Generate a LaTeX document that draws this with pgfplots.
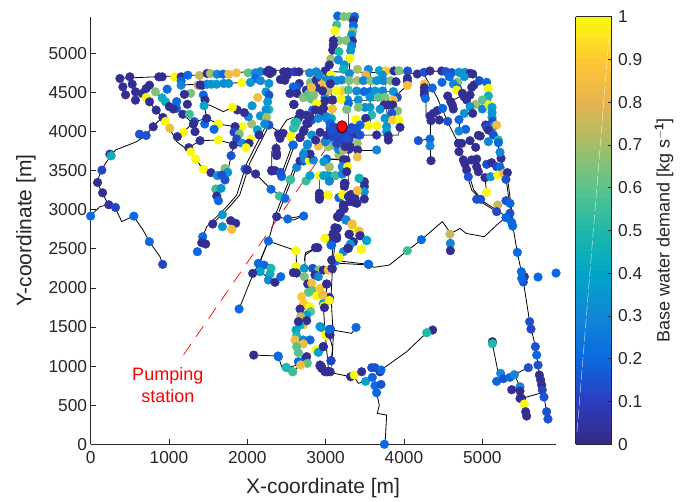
\documentclass[border=0pt]{standalone}
\usepackage{fontspec}
\setmainfont{Liberation Sans}
\usepackage{pgfplots}
\usepackage{pgfplotstable}
\pgfplotsset{compat=1.18}
\definecolor{axc}{RGB}{38,38,38}
\pgfplotstableread{
x y c
374 4678 .02
501 4699 .02
531 4605 .02
412 4571 .02
446 4469 .02
573 4507 .02
573 4401 .02
658 4486 .02
709 4550 .02
752 4592 .02
709 4435 1
828 4507 .65
752 4380 .02
913 4431 .45
956 4380 .45
837 4273 .02
922 4179 .02
956 4128 1
1011 4043 .85
799 4060 .02
709 3949 .15
624 3966 .15
246 3710 .02
263 3689 .45
144 3506 .12
89 3348 .02
153 3216 .02
233 3063 .05
318 3029 .12
0 2918 .2
552 2918 .2
750 2591 .2
920 2301 .12
871 4699 .02
913 4699 .02
1071 4699 1
1156 4699 .02
1241 4720 .2
1156 4644 .2
1156 4592 .3
977 4541 .2
1389 4716 .75
1487 4742 .02
1530 4742 .7
1614 4733 .3
1691 4733 .2
1763 4733 .85
1861 4750 .85
2010 4750 .6
2103 4750 .3
2167 4767 .3
2103 4678 .2
2276 4784 .02
2319 4763 .02
2254 4763 .02
2290 4740 .02
2465 4763 .02
2516 4763 .02
2510 4720 .02
2601 4763 .1
2659 4763 .02
2795 4750 .3
2880 4763 .3
3009 4763 .02
1368 4592 .75
1425 4592 .02
1487 4605 .3
1540 4605 .35
1607 4605 .35
1700 4614 .3
1763 4614 .35
1933 4627 1
2040 4627 .35
2167 4650 .3
2276 4614 .35
2422 4665 .02
2480 4655 .02
2664 4614 .02
2634 4571 .15
2587 4571 .2
2544 4486 .02
2634 4486 .02
2592 4345 .02
2754 4529 .02
2805 4627 .65
2239 4507 .35
2276 4465 .15
2133 4435 .85
2260 4380 .35
2061 4329 .35
2276 4280 .5
2239 4280 .35
2167 4200 .35
2246 4181 .7
2276 4083 .15
2222 4096 .3
2056 4096 .7
2129 4021 .4
2150 3955 .02
2040 3904 1
2014 4190 .3
1963 4241 .02
1873 4275 .02
1810 4309 1
1933 4062 1
1844 4062 .02
1831 3990 .12
1899 3968 .65
1865 3904 .12
1937 3849 .3
2022 3849 .02
1984 3793 1
1822 3827 .02
1631 4096 1
1576 4028 .2
1456 4096 .2
1482 4168 .02
1324 4126 .15
1312 4096 .02
1333 3998 .02
1184 3990 1
1107 3934 .02
1252 3793 .02
1397 3883 .02
1631 3891 1
1278 3738 1
1341 3648 1
1439 3516 1
1537 3474 .02
1618 3435 .35
1716 3529 .65
1750 3478 .35
1673 3444 .15
1716 3380 .15
1597 3265 .55
1665 3273 .35
1610 3175 .02
1631 3115 .2
1793 3691 .15
1971 3521 .2
2001 3508 .02
2107 3457 .02
2303 3261 .2
2409 3175 .55
2482 3145 .2
2375 2911 .02
2516 2881 .2
2720 2919 .2
1682 2937 .35
1559 2817 .02
1682 2783 .35
1788 2860 .02
1852 2826 .02
1801 2749 .85
1099 4382 .2
1235 4348 .02
1099 4296 .2
1005 4318 .02
1056 4288 .02
1176 4220 .02
1261 4220 .55
1278 4488 .65
1197 4475 .02
1439 4467 .2
1461 4403 .02
1448 4330 .4
1397 4595 .02
1431 2655 .2
1418 2578 .02
1469 2561 .02
1363 2463 .2
2269 2599 .2
2622 2476 1
2870 2514 .02
2900 2514 .02
2141 2314 .2
2214 2292 .2
2163 2207 .4
2303 2250 .5
2290 2177 .45
2269 2101 .3
2354 2071 .02
2427 2143 .2
2069 2186 .02
1895 1730 .2
2082 1141 .02
2393 1129 .2
2503 980 .5
2580 928 .55
2673 1022 .85
2652 1056 .2
2759 1048 .55
2907 1184 .4
2895 1197 1
2929 1014 .02
3014 928 .02
2622 2272 1
2728 2250 .35
2588 2195 .02
2628 2190 .02
2728 2144 .65
2771 2050 .02
2835 2250 .15
2915 2229 .65
2864 2165 .02
2907 2144 .3
2971 2229 .02
3035 2229 .85
3086 2242 .02
2822 2059 .85
2835 1965 .6
2779 1944 .6
2928 1995 .9
2886 1897 1
2958 1909 .85
3013 2050 .02
3047 1880 .02
3047 1840 .02
2694 1888 .9
2716 1803 .9
2767 1760 .9
2801 1760 1
2809 1696 .6
2673 1730 .02
2971 1803 .4
2979 1760 1
2758 1654 .4
2681 1632 .75
2716 1526 .85
2758 1581 .02
2673 1526 .45
2652 1568 .02
2622 1462 .4
2630 1385 .5
2609 1334 .85
2716 1334 .3
2801 1334 .2
2716 1283 .85
2630 1249 .6
2652 1172 .6
2737 1091 .2
2758 1121 .02
2767 1035 .6
2681 1014 .85
2928 1505 .3
2992 1440 1
3013 1385 1
3056 1398 .02
3064 1470 .15
2971 1249 .02
2877 1206 1
2907 1176 .4
3069 1070 .15
2928 1002 .02
2950 971 .02
2990 929 .02
3056 929 .02
2396 1121 .2
2494 984 .5
2579 929 .55
3388 1495 .2
3545 2302 .2
3319 864 .02
3366 886 1
3460 928 .02
3511 805 .4
3588 980 .15
3630 980 .15
3694 928 .02
3707 950 .2
3596 856 .2
3630 749 .2
3707 766 .15
3651 660 .2
3750 0 .2
4366 1461 .02
4290 1427 .5
4222 2616 .2
4043 2476 .55
3549 2301 .2
4587 2689 .75
4592 2570 .3
4592 2476 .02
5387 2791 .2
5447 2454 .2
5536 2143 .02
5498 2207 .2
5524 2075 .15
5502 2122 .2
5711 2139 .2
5941 2190 .2
5604 1568 .15
5621 1474 .12
5677 1248 .15
5694 1141 .2
5711 1013 .15
5587 980 .15
5728 886 .02
5745 822 .02
5758 758 .02
5766 694 .12
5787 604 .15
5821 417 .15
5838 323 .15
5128 1312 .02
5128 1286 .5
5234 907 .3
5183 805 .2
5268 839 .15
5353 856 .2
5409 890 .3
5481 736 .3
5375 698 .02
5481 681 .02
5481 587 .02
5502 587 .02
5536 515 1
5553 417 .02
5566 361 .02
3068 1069 .12
3056 928 .02
3013 928 .02
2949 992 .02
3000 1397 1
3047 1410 .02
3047 1470 .2
2941 1495 .35
2970 1248 .02
2979 1768 1
2985 1748 .02
3047 1866 .02
3047 1840 1
2962 1909 .85
3013 2049 .02
3034 2229 .85
3081 2250 .02
2992 2633 1
3068 2642 .02
3068 2548 .2
3141 2633 .02
3132 2761 .02
3098 2697 .02
3354 2761 1
3430 2719 .85
3438 2668 .02
3302 2685 .02
3354 2591 .02
3315 2560 .35
3460 2497 1
3524 2604 .4
3290 2506 .02
3226 2463 .3
3170 2390 1
3132 2344 .2
3077 2356 .02
3153 5477 .2
3234 5469 .65
3302 5469 .65
3370 5469 .2
3354 5418 .02
3354 5354 .2
3345 5277 .65
3141 5362 .55
3119 5290 1
3332 5234 .35
3341 5158 .02
3170 5162 .65
3260 5162 .65
3098 5162 .02
3098 5106 .02
3090 5042 .02
3332 5094 .3
3319 5034 .35
3170 5021 .5
3064 4927 .7
3162 4915 .3
3311 4936 1
3047 4851 .02
3239 4851 .35
3226 4795 .45
3405 4795 .7
3302 4744 .3
3545 4795 .3
3685 4778 .4
3770 4774 .9
3724 4723 .35
3873 4774 .02
3936 4778 .65
4047 4774 .15
2992 4774 .02
3064 4723 1
2949 4680 .85
3013 4659 .3
3077 4659 .3
3141 4650 .3
3205 4659 .3
3302 4650 .65
3405 4650 .7
3511 4723 .8
3481 4650 .3
3575 4650 .65
3651 4650 .35
3737 4650 .3
3830 4650 .65
3898 4637 .02
4043 4680 .02
4043 4645 .02
4043 4590 .85
3141 4522 1
3217 4522 .9
3290 4530 .55
3034 4522 .75
3396 4518 .3
3490 4510 .2
3566 4510 .2
3630 4518 .35
3728 4518 .3
3864 4510 .35
3915 4437 .15
2992 4437 .35
3085 4403 .02
3192 4412 1
3281 4403 .3
3417 4403 .35
3566 4437 .35
3673 4437 .6
3758 4437 .65
3864 4403 .85
3800 4339 .02
3856 4339 .02
3745 4339 .02
3919 4262 .65
3843 4232 .15
3694 4284 .35
3502 4309 .3
3566 4309 .35
3417 4309 .65
3268 4284 .65
3085 4296 1
2971 4296 .02
3290 4360 .2
3588 4211 .5
3758 4168 .35
3855 4147 .9
3936 4147 1
3388 4156 1
3511 4168 .02
3077 4168 .5
3013 4168 .35
2962 4232 .02
3545 4075 1
3651 4075 1
3779 4062 .35
3949 4053 .02
3779 3998 .4
3800 3943 .02
3800 3891 .02
3651 3955 .02
3409 3955 .15
3354 4019 .15
3405 3849 .7
3298 3772 .02
3409 3764 .02
3651 3764 .3
3405 3674 .85
3226 3764 .7
3170 3700 .7
3098 3827 .55
3034 3806 .7
2992 3870 .2
3056 3977 .02
3239 3636 .02
3281 3550 1
3213 3550 .35
3213 3457 .3
3047 3550 .7
2979 3614 .4
2941 3435 1
3022 3435 .55
3119 3435 .55
3047 3367 .3
3239 3337 .02
3430 3401 .45
3494 3324 .7
3494 3295 .02
3494 3231 .35
3405 3243 .85
3239 3295 .02
3034 3188 1
3213 3196 1
3170 3154 .15
2928 3167 .02
3332 3196 .02
3375 3145 .02
3311 3103 .02
3375 3090 .02
3494 3137 .02
3226 3039 .02
3183 2954 .02
3162 2902 .02
3260 2868 .2
3119 2770 .02
3341 2817 .85
4170 4735 .02
4256 4757 .15
4332 4774 .02
4481 4774 .02
4536 4765 .15
4609 4753 .15
4702 4757 .35
4779 4757 .35
4843 4744 .02
4877 4735 .02
4770 4701 .35
4579 4701 .2
4485 4629 .2
4685 4633 .65
4630 4608 .3
4685 4552 .2
4672 4531 1
4260 4608 .85
4260 4560 .02
4260 4510 .02
4260 4467 .02
4273 4424 .2
4362 4556 .2
4558 4454 .02
4596 4382 .02
4617 4339 .02
4630 4288 .02
4745 4488 .02
4767 4445 .02
4800 4403 .02
4843 4467 .02
4864 4565 .02
4894 4595 .02
4962 4650 .15
5055 4629 .2
5077 4552 1
5077 4454 .45
5000 4403 .6
4915 4347 .7
4843 4318 .35
4770 4232 .35
4877 4232 .02
5000 4288 .3
5085 4339 1
5124 4309 .4
5124 4245 .35
5124 4181 .35
5132 4126 .15
5141 4062 .35
5183 4083 .85
5043 4083 .02
5056 4053 .15
5077 4019 .02
5141 3955 .15
4973 3943 .02
4949 3951 .02
5077 3870 .3
5205 3891 .5
5205 3857 .2
4843 3883 .02
4694 3849 .02
4736 3849 .02
4702 3742 .02
4915 3798 .02
4558 4130 .15
4451 4147 .02
4345 4139 .02
4332 4198 .02
4375 4232 .02
4426 4267 .02
4494 4296 .2
4702 4151 .2
4787 4028 .2
4702 4006 .3
4183 3883 .15
4332 3904 .2
4332 3815 .3
4345 3627 .02
4758 3636 .02
4779 3585 .02
4800 3508 .02
4864 3636 .02
4928 3648 .02
4821 3422 .15
4928 3550 .02
4949 3486 .02
5034 3410 .02
5055 3580 .15
5119 3601 .02
5183 3550 .12
5226 3542 .2
5239 3657 .02
5226 3734 .3
5107 3422 .35
5196 3444 1
5277 3465 .85
5320 3474 .02
5302 3388 .15
5055 3222 1
4928 3133 .15
4979 3133 .15
5196 3060 .75
5183 2975 .12
5302 3115 .15
5353 3081 .2
5353 2954 .15
5302 2898 .2
5375 2838 .2
2375 3691 .02
2312 3504 .02
2354 3500 .02
2426 3478 .15
2439 3423 .2
2554 3389 .55
2750 3367 .55
2801 3436 .4
2920 3436 1
3035 3436 .35
3120 3436 .55
3048 3367 .3
2975 3436 .4
3248 3338 .02
2920 3210 .02
2920 3170 .02
2920 3133 .02
3031 3188 1
3175 3154 .2
3218 3188 1
3312 3188 .02
3355 3146 .02
3400 3082 .02
3333 3125 .02
3290 3167 .02
3405 3244 .85
3494 3359 .02
3426 3402 .45
3226 3061 .02
3235 3010 .02
3184 2933 .02
3150 2911 .02
3260 2869 .3
3150 2762 .02
3120 2698 .02
3141 2656 .02
3056 2634 .02
2992 2634 1
3077 2549 .2
3299 2685 .02
3333 2813 .85
3426 2728 .85
3439 2668 .02
3524 2609 .4
3282 2506 .02
3452 2494 1
3175 2387 1
2631 3542 .3
2673 3623 .02
2716 3623 .15
2737 3649 .3
2792 3628 1
2843 3636 .3
3014 3649 .2
2980 3615 .35
3048 3542 .7
3226 3636 .02
3260 3636 .02
3214 3551 .3
3282 3551 1
3214 3457 .3
3269 3487 .02
2597 4347 .02
2716 4432 .65
2801 4424 .65
2830 4411 .6
2886 4360 1
2835 4275 .2
2971 4296 .02
3086 4287 .85
2992 4390 .02
3090 4402 .02
3035 4522 .75
3141 4522 1
3197 4411 1
2673 4232 .02
2652 4168 .02
2609 4113 .45
2588 4040 .5
2724 4019 .02
2780 4104 .02
2822 4147 .15
2907 4168 .3
3014 4189 .3
3056 4155 .35
2554 3942 1
2673 3925 .02
2822 3955 .35
2929 3989 .02
2580 3827 .2
2771 3840 .3
2907 3814 .85
3005 3882 .3
3035 3912 .3
2873 3890 .02
2737 3742 .5
2801 3712 .02
3120 3827 .6
3163 3772 .3
3226 3763 .7
3290 3890 .02
3175 3890 .02
3354 3976 .02
3056 4040 .15
3440 4083 .2
3056 4104 .2
3269 4283 .65
2397 3967 .02
2460 3976 .02
2418 3912 .02
2367 3784 .02
2375 3720 .02
2554 3934 1
2589 3827 .2
2312 3495 .02
2427 3465 .15
2546 3380 .55
2716 3708 .3
2767 3827 .3
2609 4062 .55
2630 4120 .5
2759 4105 .02
2716 3998 .02
2673 3921 .02
2800 4190 .02
2870 4275 .02
2750 4210 .02
3170 3990 .12
3250 3950 .05
3300 3900 .12
3130 4000 .02
3200 3890 .12
3260 4020 .12
3100 4060 .12
3330 4050 .12
3099 3933 .12
3184 3997 .12
3269 3912 .15
3333 4019 .15
3397 4040 .15
3439 3955 .15
3248 3806 .05
3141 3848 .12
3014 3955 .05
3311 3806 .02
3077 4000 .15
2880 4660 .02
2950 4600 .85
2880 4560 .02
2780 4480 .6
2850 4470 .65
2960 4520 .02
3060 4610 .02
2920 4720 .3
2820 4560 .85
}\pts
\begin{document}
\begin{tikzpicture}[x=1pt,y=1pt]
\fill[white] (-90.6pt,-56.7pt) rectangle (600.4pt,444.3pt);
\useasboundingbox (-90.6pt,-56.7pt) rectangle (600.4pt,444.3pt);
\begin{axis}[
  at={(0pt,0pt)},anchor=south west,
  scale only axis,width=464.9pt,height=427.6pt,
  xmin=0,xmax=5934,ymin=0,ymax=5468,
  clip=false,
  axis x line*=bottom,axis y line*=left,
  axis line style={axc,line width=.8pt,-},
  tick style={axc,line width=.8pt},
  tick align=inside,
  major tick length=5pt,
  xtick={0,1000,2000,3000,4000,5000},
  ytick={0,500,1000,1500,2000,2500,3000,3500,4000,4500,5000},
  /pgf/number format/set thousands separator={},
  /pgf/number format/assume math mode=true,
  ticklabel style={font=\fontsize{17.3}{20}\selectfont,text=axc},
  xticklabel style={yshift=-4pt},
  xlabel={X-coordinate [m]},
  ylabel={Y-coordinate [m]},
  label style={font=\fontsize{21}{25}\selectfont,text=axc},
  xlabel style={yshift=-7pt},
  ylabel style={yshift=6pt},
  colormap={parula}{rgb255=(53,42,135) rgb255=(45,60,190) rgb255=(10,105,225) rgb255=(18,135,215) rgb255=(0,165,200) rgb255=(30,185,170) rgb255=(90,195,140) rgb255=(165,190,105) rgb255=(230,180,80) rgb255=(255,200,50) rgb255=(250,250,15)},
  point meta min=0,point meta max=1,
  colorbar sampled,
  colorbar shift/.style={xshift=0pt},
  colorbar style={
    at={(parent axis.south east)},anchor=south west,xshift=20.2pt,
    samples=65,
    width=36pt,height=427.6pt,
    axis line style={axc,line width=.8pt},
    tick style={axc,line width=.8pt},
    ytick={0,0.1,0.2,0.3,0.4,0.5,0.6,0.7,0.8,0.9,1},
    yticklabels={0,0.1,0.2,0.3,0.4,0.5,0.6,0.7,0.8,0.9,1},
    ytick pos=right,tick align=inside,major tick length=4pt,
    yticklabel style={font=\fontsize{17.3}{20}\selectfont,text=axc,xshift=3pt},
    ylabel={Base water demand [kg s$^{\mathbf{-1}}$]},
    ylabel style={font=\fontsize{18}{21}\selectfont,text=axc,yshift=-5.5pt},
  },
]
\addplot[black,line width=.8pt] coordinates {(376,4680)(869,4701)(1397,4723)(1865,4753)(2269,4787)(3005,4765)(4162,4744)(4332,4774)(4843,4757)(4885,4723)(5055,4629)(5124,4275)(5141,4062)(5226,3721)(5311,3337)(5353,3039)(5387,2804)(5447,2454)(5498,2207)(5524,2079)(5604,1568)(5677,1248)(5711,1013)(5728,886)(5787,604)(5838,323)};
\addplot[black,line width=.8pt] coordinates {(5330,3337)(5370,3039)(5400,2804)};
\addplot[black,line width=.8pt] coordinates {(1142,4595)(1695,4616)(2269,4637)};
\addplot[black,line width=.8pt] coordinates {(703,4595)(746,4595)(703,4437)(831,4275)(916,4181)(793,4062)(703,3951)(588,3870)(320,3764)(256,3691)(137,3508)(82,3350)(146,3218)(227,3064)(120,3039)(-7,2919)};
\addplot[black,line width=.8pt] coordinates {(227,3064)(312,3030)(397,2847)(546,2919)(670,2740)(750,2591)(886,2399)(920,2301)};
\addplot[black,line width=.8pt] coordinates {(822,4510)(950,4382)(1099,4296)(1312,4096)};
\addplot[black,line width=.8pt] coordinates {(916,4181)(1005,4045)(1099,3870)(1269,3742)(1439,3516)(1618,3435)(1750,3478)(1793,3691)(1822,3827)};
\addplot[black,line width=.8pt] coordinates {(1107,3934)(1333,4126)(1482,4168)(1631,4096)(1844,4062)(1933,4062)};
\addplot[black,line width=.8pt] coordinates {(1252,3793)(1397,3883)(1631,3891)(1865,3827)(1984,3793)};
\addplot[black,line width=.8pt] coordinates {(1482,4168)(1452,4330)(1516,4339)(1695,4254)(1810,4309)(1950,4232)(2056,4096)(2150,3955)};
\addplot[black,line width=.8pt] coordinates {(2227,4053)(1993,3593)(1865,3188)(1737,3039)(1482,2783)(1431,2655)};
\addplot[black,line width=.8pt] coordinates {(2265,4053)(2031,3593)(1903,3188)(1775,3039)(1520,2783)};
\addplot[black,line width=.8pt] coordinates {(2269,4083)(2405,3998)(2503,4147)(2589,4181)};
\addplot[black,line width=.8pt] coordinates {(2589,3870)(2440,3465)};
\addplot[black,line width=.8pt] coordinates {(2619,3870)(2470,3465)};
\addplot[black,line width=.8pt] coordinates {(2312,3495)(2312,3742)(2375,3849)};
\addplot[black,line width=.8pt] coordinates {(2001,3508)(2107,3457)(2303,3261)(2482,3145)};
\addplot[black,line width=.8pt] coordinates {(2609,3572)(2375,2975)(2269,2600)(2141,2293)};
\addplot[black,line width=.8pt] coordinates {(2640,3572)(2405,2975)};
\addplot[black,line width=.8pt] coordinates {(2269,2599)(2163,2335)(2078,2186)(1895,1730)};
\addplot[black,line width=.8pt] coordinates {(2375,2911)(2516,2881)(2589,2868)(2720,2919)};
\addplot[black,line width=.8pt] coordinates {(2269,2599)(2622,2476)(2630,2250)};
\addplot[black,line width=.8pt] coordinates {(2728,2346)(2745,2450)(2886,2514)};
\addplot[black,line width=.8pt] coordinates {(2163,2207)(2354,2071)};
\addplot[black,line width=.8pt] coordinates {(2141,2314)(2303,2300)(2303,2177)};
\addplot[black,line width=.8pt] coordinates {(2082,1141)(2393,1129)(2440,990)(2503,980)(2670,1020)};
\addplot[black,line width=.8pt] coordinates {(2580,929)(2680,1020)(2760,1080)};
\addplot[black,line width=.8pt] coordinates {(3035,2101)(2971,1760)(2992,1440)(3035,971)};
\addplot[black,line width=.8pt] coordinates {(3086,2229)(3069,1888)(3098,1376)(3077,993)};
\addplot[black,line width=.8pt] coordinates {(3086,1462)(3332,1419)(3388,1496)};
\addplot[black,line width=.8pt] coordinates {(3047,1397)(3090,1227)(3068,1069)};
\addplot[black,line width=.8pt] coordinates {(3013,928)(3319,864)(3366,860)(3417,780)(3511,805)(3596,856)};
\addplot[black,line width=.8pt] coordinates {(3707,950)(4034,1184)(4290,1427)(4366,1461)};
\addplot[black,line width=.8pt] coordinates {(3630,749)(3651,660)(3685,502)(3660,395)(3779,374)(3758,0)};
\addplot[black,line width=.8pt] coordinates {(5128,1286)(5204,907)};
\addplot[black,line width=.8pt] coordinates {(5353,856)(5481,928)(5587,980)};
\addplot[black,line width=.8pt] coordinates {(5409,890)(5481,736)(5502,587)(5766,660)};
\addplot[black,line width=.8pt] coordinates {(3077,2356)(3549,2301)(3617,2263)(3813,2292)(4043,2476)(4222,2616)(4439,2804)(4490,2847)(4566,2740)(4587,2689)(4715,2761)(4792,2697)(5026,2655)(5183,2804)(5311,2911)};
\addplot[black,line width=.8pt] coordinates {(4587,2689)(4592,2476)};
\addplot[black,line width=.8pt] coordinates {(4247,4744)(4417,4446)(4587,4062)(4694,3849)(4758,3636)(4800,3465)(4864,3252)(5013,3103)(5183,2996)(5353,2880)};
\addplot[black,line width=.8pt] coordinates {(4780,3636)(4825,3465)(4890,3252)(5030,3090)};
\addplot[black,line width=.8pt] coordinates {(4281,4424)(4281,4211)(4345,4168)};
\addplot[black,line width=.8pt] coordinates {(4332,4104)(4332,3636)};
\addplot[black,line width=.8pt] coordinates {(4183,3883)(4332,3904)};
\addplot[black,line width=.8pt] coordinates {(4043,4590)(3907,4467)};
\addplot[gray!70!black,line width=1pt] coordinates {(3949,4053)(3928,3955)(3409,3955)};
\addplot[black,line width=.8pt] coordinates {(3298,3764)(3651,3764)};
\addplot[black,line width=.8pt] coordinates {(4702,4151)(4702,4006)};
\addplot[black,line width=.8pt] coordinates {(4630,4403)(4758,4467)};
\addplot[black,line width=.8pt] coordinates {(4843,4318)(4915,4347)(5000,4403)};
\addplot[black,line width=.8pt] coordinates {(5034,3410)(5055,3222)};
\addplot[black,line width=.8pt] coordinates {(4928,3133)(5183,2975)};
\addplot[gray!70!black,line width=1pt] coordinates {(2920,3436)(2920,3133)};
\addplot[black,line width=1.2pt] coordinates {(3014,3649)(3269,3636)};
\addplot[black,line width=.8pt] coordinates {(3184,2314)(3546,2293)};
\addplot[black,line width=.8pt] coordinates {(3150,2762)(3099,2570)(3077,2357)};
\addplot[black,line width=.8pt] coordinates {(3170,2762)(3119,2570)(3097,2357)};
\addplot[black,line width=.8pt] coordinates {(2516,2886)(2724,2924)};
\addplot[black,line width=.8pt] coordinates {(2886,2515)(2737,2421)(2737,2293)};
\addplot[gray!70!black,line width=.8pt] coordinates {(2960,4650)(3950,4650)};
\addplot[gray!70!black,line width=.8pt] coordinates {(2960,4510)(3900,4510)};
\addplot[gray!70!black,line width=.8pt] coordinates {(2960,4400)(3870,4400)};
\addplot[gray!70!black,line width=.8pt] coordinates {(3070,4720)(3070,3800)};
\addplot[gray!70!black,line width=.8pt] coordinates {(3290,4740)(3290,3300)};
\addplot[gray!70!black,line width=.8pt] coordinates {(3570,4790)(3570,4080)};
\addplot[gray!70!black,line width=.8pt] coordinates {(3760,4770)(3790,3950)};
\addplot[black,line width=.8pt] coordinates {(3141,5362)(3153,5477)(3370,5469)(3354,5158)(3311,4936)(3302,4744)};
\addplot[black,line width=.8pt] coordinates {(3141,5362)(3119,5290)(3098,5162)(3064,4927)(3047,4851)};
\addplot[
  scatter,only marks,scatter src=explicit,
  mark=*,mark size=4.35pt,
  scatter/use mapped color={draw=mapped color,fill=mapped color},
] table[x=x,y=y,meta=c] {\pts};
\addplot[red,dash pattern=on 13pt off 9pt,line width=.7pt] coordinates {(3196,4058)(1141,1078)};
\addplot[only marks,mark=*,mark size=6.2pt,mark options={fill=red,draw=black,line width=.6pt,xscale=.82}] coordinates {(3210,4060)};
\node[red,align=center,font=\fontsize{18}{22}\selectfont,anchor=center] at (axis cs:985,755) {Pumping\\station};
\end{axis}
\draw[white,opacity=.7,line width=.5pt,dash pattern=on 10pt off 3pt] (486.4pt,12.3pt) -- (519.4pt,419.3pt);
\end{tikzpicture}
\end{document}
